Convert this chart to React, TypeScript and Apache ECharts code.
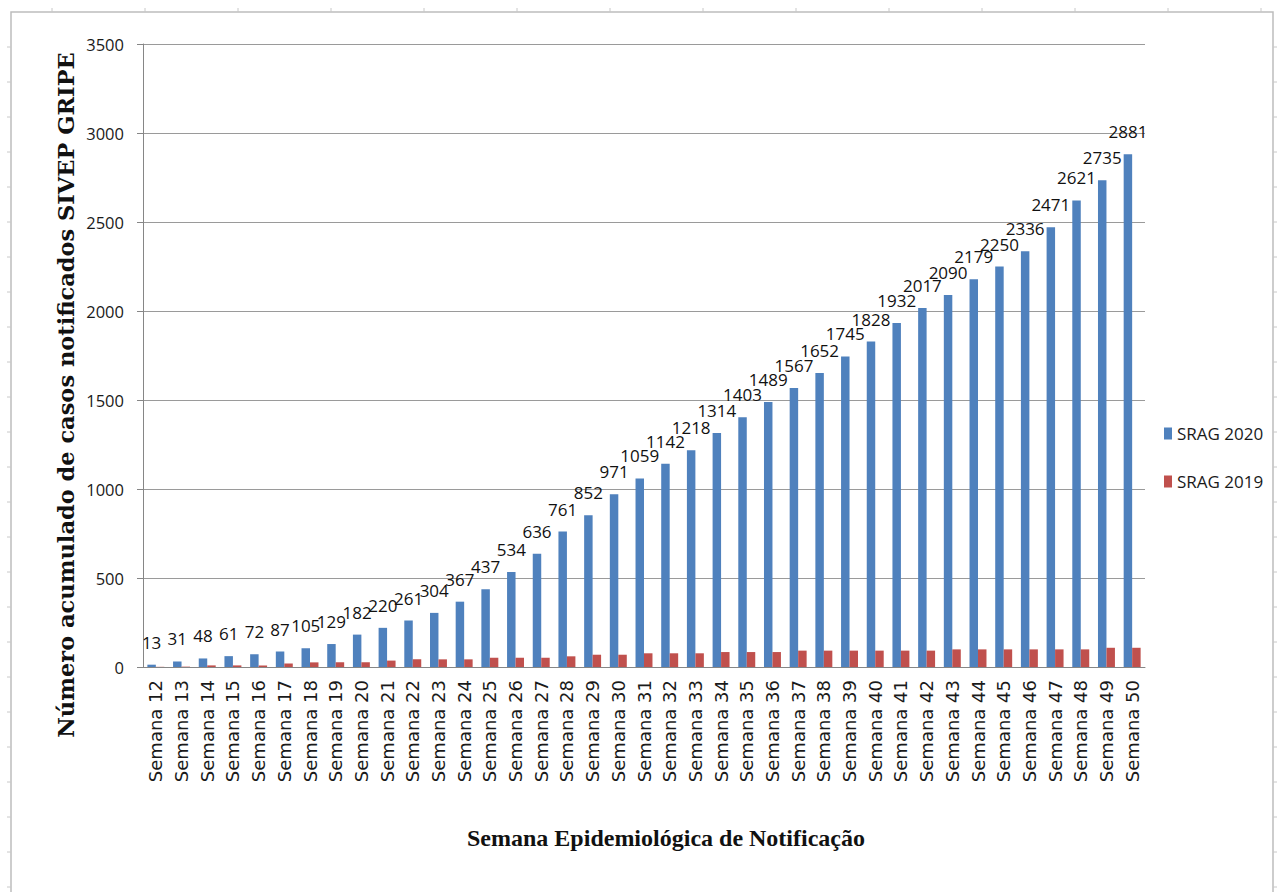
import React, { useEffect, useRef } from "react";
import * as echarts from "echarts";

const weeks = [
  "Semana 12", "Semana 13", "Semana 14", "Semana 15", "Semana 16", "Semana 17", "Semana 18",
  "Semana 19", "Semana 20", "Semana 21", "Semana 22", "Semana 23", "Semana 24", "Semana 25",
  "Semana 26", "Semana 27", "Semana 28", "Semana 29", "Semana 30", "Semana 31", "Semana 32",
  "Semana 33", "Semana 34", "Semana 35", "Semana 36", "Semana 37", "Semana 38", "Semana 39",
  "Semana 40", "Semana 41", "Semana 42", "Semana 43", "Semana 44", "Semana 45", "Semana 46",
  "Semana 47", "Semana 48", "Semana 49", "Semana 50",
];

const srag2020 = [
  13, 31, 48, 61, 72, 87, 105, 129, 182, 220, 261, 304, 367, 437, 534, 636, 761, 852, 971,
  1059, 1142, 1218, 1314, 1403, 1489, 1567, 1652, 1745, 1828, 1932, 2017, 2090, 2179, 2250,
  2336, 2471, 2621, 2735, 2881,
];

const srag2019 = [
  1, 2, 9, 9, 9, 19, 26, 26, 26, 36, 43, 43, 43, 52, 52, 52, 60, 69, 69, 77, 77, 77, 84, 84,
  84, 92, 92, 92, 92, 92, 92, 99, 99, 99, 99, 99, 99, 108, 108,
];

const seriesNames = ["SRAG 2020", "SRAG 2019"];
const yTitle = "Número acumulado de casos notificados SIVEP GRIPE";
const xTitle = "Semana Epidemiológica de Notificação";

export default function App() {
  const ref = useRef<HTMLDivElement>(null);

  useEffect(() => {
    document.body.style.margin = "0";
    if (!ref.current) return;
    const chart = echarts.init(ref.current, undefined, { renderer: "svg" });

    const frameTicks: any[] = [];
    for (let y = 47; y < 892; y += 35) {
      frameTicks.push({ type: "line", shape: { x1: 7, y1: y, x2: 11, y2: y }, style: { stroke: "#c8c8c8", lineWidth: 1 }, silent: true });
      frameTicks.push({ type: "line", shape: { x1: 1273, y1: y, x2: 1277, y2: y }, style: { stroke: "#c8c8c8", lineWidth: 1 }, silent: true });
    }
    for (let x = 52; x < 1273; x += 93) {
      frameTicks.push({ type: "line", shape: { x1: x, y1: 8, x2: x, y2: 12 }, style: { stroke: "#c8c8c8", lineWidth: 1 }, silent: true });
    }

    chart.setOption({
      animation: false,
      backgroundColor: "#ffffff",
      color: ["#4F81BD", "#C0504D"],
      grid: { left: 143, right: 132, top: 44, bottom: 225, containLabel: false },
      legend: {
        data: seriesNames,
        orient: "vertical",
        left: 1159,
        top: 420,
        icon: "rect",
        itemWidth: 8,
        itemHeight: 12,
        itemGap: 31,
        textStyle: { fontFamily: "'Open Sans', sans-serif", fontSize: 17, color: "#1a1a1a" },
      },
      xAxis: {
        type: "category",
        data: weeks,
        axisLine: { show: true, lineStyle: { color: "#868686", width: 1 } },
        axisTick: { show: false },
        axisLabel: {
          rotate: 90,
          interval: 0,
          margin: 13,
          fontFamily: "'DejaVu Sans', sans-serif",
          fontSize: 18,
          color: "#1a1a1a",
        },
      },
      yAxis: {
        type: "value",
        min: 0,
        max: 3500,
        interval: 500,
        axisLine: { show: true, lineStyle: { color: "#868686", width: 1 } },
        axisTick: { show: true, inside: false, length: 6, lineStyle: { color: "#868686" } },
        axisLabel: {
          margin: 19,
          fontFamily: "'Open Sans', sans-serif",
          fontSize: 16.5,
          color: "#1a1a1a",
          formatter: (v: number) => String(v),
        },
        splitLine: { show: true, lineStyle: { color: "#9a9a9a", width: 1 } },
      },
      series: [
        {
          name: seriesNames[0],
          type: "bar",
          data: srag2020,
          barGap: "0%",
          barCategoryGap: "34%",
          label: {
            show: true,
            position: "top",
            distance: 14,
            fontFamily: "'Open Sans', sans-serif",
            fontSize: 17,
            color: "#111",
          },
        },
        {
          name: seriesNames[1],
          type: "bar",
          data: srag2019,
          barGap: "0%",
          barCategoryGap: "34%",
        },
      ],
      graphic: [
        {
          type: "rect",
          shape: { x: 11, y: 12, width: 1262, height: 900 },
          style: { fill: "none", stroke: "#bdbdbd", lineWidth: 1.5 },
          silent: true,
          z: -10,
        },
        ...frameTicks,
        {
          type: "text",
          x: 66,
          y: 395,
          rotation: Math.PI / 2,
          style: {
            text: yTitle,
            fontFamily: "'DejaVu Serif', serif",
            fontWeight: "bold",
            fontSize: 22.5,
            fill: "#111",
            align: "center",
            verticalAlign: "middle",
          },
        },
        {
          type: "text",
          x: 666,
          y: 838,
          style: {
            text: xTitle,
            fontFamily: "'Liberation Serif', serif",
            fontWeight: "bold",
            fontSize: 24,
            fill: "#111",
            align: "center",
            verticalAlign: "middle",
          },
        },
      ],
    });

    return () => chart.dispose();
  }, []);

  return <div ref={ref} style={{ width: 1277, height: 892 }} />;
}
